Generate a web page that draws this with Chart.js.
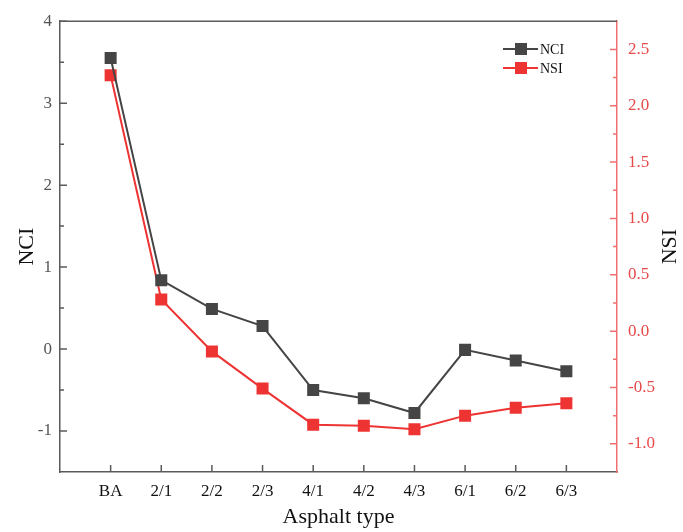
<!DOCTYPE html>
<html>
<head>
<meta charset="utf-8">
<script src="https://cdn.jsdelivr.net/npm/chart.js@4.4.1/dist/chart.umd.min.js"></script>
<style>
  html, body { margin: 0; padding: 0; background: #fff; }
  canvas { display: block; }
</style>
</head>
<body>
<canvas id="chart" width="683" height="532"></canvas>
<script>
// data
const categories = ["BA", "2/1", "2/2", "2/3", "4/1", "4/2", "4/3", "6/1", "6/2", "6/3"];
const nciValues = [3.55, 0.84, 0.49, 0.28, -0.50, -0.60, -0.78, -0.01, -0.14, -0.27];
const nsiValues = [2.27, 0.28, -0.18, -0.51, -0.83, -0.84, -0.87, -0.75, -0.68, -0.64];
const nciTicks = [-1, 0, 1, 2, 3, 4];
const nsiTicks = [-1.0, -0.5, 0.0, 0.5, 1.0, 1.5, 2.0, 2.5];

const SERIF = "'Liberation Serif', 'DejaVu Serif', serif";
const GRAY = "#454545";
const RED = "#ee3333";
const AXIS_GRAY = "#5a5a5a";
const AXIS_RED = "#f07070";

const toPoints = vals => vals.map((v, i) => ({ x: i + 1, y: v }));

// inward ticks, top frame, legend and axis titles
const decorations = {
  id: "decorations",
  afterDraw(chart) {
    const ctx = chart.ctx;
    const area = chart.chartArea;
    const xs = chart.scales.x, yl = chart.scales.y, yr = chart.scales.y1;
    ctx.save();

    // top frame line
    ctx.strokeStyle = AXIS_GRAY;
    ctx.lineWidth = 1.5;
    ctx.beginPath();
    ctx.moveTo(area.left, area.top);
    ctx.lineTo(area.right, area.top);
    ctx.stroke();

    // x ticks
    ctx.beginPath();
    categories.forEach((c, i) => {
      const px = xs.getPixelForValue(i + 1);
      ctx.moveTo(px, area.bottom);
      ctx.lineTo(px, area.bottom - 7);
    });
    // left ticks, major and minor
    nciTicks.forEach(v => {
      const py = yl.getPixelForValue(v);
      ctx.moveTo(area.left, py);
      ctx.lineTo(area.left + 7, py);
    });
    nciTicks.slice(0, -1).forEach(v => {
      const py = yl.getPixelForValue(v + 0.5);
      ctx.moveTo(area.left, py);
      ctx.lineTo(area.left + 4, py);
    });
    ctx.stroke();

    // right ticks
    ctx.strokeStyle = AXIS_RED;
    ctx.beginPath();
    nsiTicks.forEach(v => {
      const py = yr.getPixelForValue(v);
      ctx.moveTo(area.right, py);
      ctx.lineTo(area.right - 7, py);
    });
    nsiTicks.slice(0, -1).forEach(v => {
      const py = yr.getPixelForValue(v + 0.25);
      ctx.moveTo(area.right, py);
      ctx.lineTo(area.right - 4, py);
    });
    ctx.stroke();

    // legend
    const rows = [
      { label: "NCI", color: GRAY, y: 49 },
      { label: "NSI", color: RED, y: 68 }
    ];
    rows.forEach(r => {
      ctx.strokeStyle = r.color;
      ctx.lineWidth = 2;
      ctx.beginPath();
      ctx.moveTo(503, r.y);
      ctx.lineTo(538, r.y);
      ctx.stroke();
      ctx.fillStyle = r.color;
      ctx.fillRect(515, r.y - 6, 12, 12);
      ctx.fillStyle = "#111";
      ctx.font = "14px " + SERIF;
      ctx.textAlign = "left";
      ctx.textBaseline = "middle";
      ctx.fillText(r.label, 540, r.y + 1);
    });

    // axis titles
    ctx.fillStyle = "#111";
    ctx.font = "22px " + SERIF;
    ctx.textAlign = "center";
    ctx.textBaseline = "middle";
    ctx.fillText("Asphalt type", (area.left + area.right) / 2, 517);
    const midY = (area.top + area.bottom) / 2;
    ctx.save();
    ctx.translate(27, midY);
    ctx.rotate(-Math.PI / 2);
    ctx.fillText("NCI", 0, 0);
    ctx.restore();
    ctx.save();
    ctx.translate(670, midY);
    ctx.rotate(-Math.PI / 2);
    ctx.fillText("NSI", 0, 0);
    ctx.restore();

    ctx.restore();
  }
};

new Chart(document.getElementById("chart"), {
  type: "line",
  data: {
    datasets: [
      {
        label: "NCI",
        data: toPoints(nciValues),
        yAxisID: "y",
        borderColor: GRAY,
        backgroundColor: GRAY,
        borderWidth: 2,
        pointStyle: "rect",
        pointRadius: 8.5,
        pointBorderWidth: 0,
        pointHoverRadius: 8.5
      },
      {
        label: "NSI",
        data: toPoints(nsiValues),
        yAxisID: "y1",
        borderColor: RED,
        backgroundColor: RED,
        borderWidth: 2,
        pointStyle: "rect",
        pointRadius: 8.5,
        pointBorderWidth: 0,
        pointHoverRadius: 8.5
      }
    ]
  },
  options: {
    responsive: false,
    animation: false,
    layout: { padding: { top: 18, left: 0, right: 0, bottom: 0 } },
    plugins: {
      legend: { display: false },
      tooltip: { enabled: false }
    },
    scales: {
      x: {
        type: "linear",
        min: 0,
        max: 11,
        afterBuildTicks: s => { s.ticks = categories.map((c, i) => ({ value: i + 1 })); },
        afterFit: s => { s.height = 60; },
        grid: { display: false, drawTicks: false },
        border: { display: true, color: AXIS_GRAY, width: 1.5 },
        ticks: {
          autoSkip: false,
          maxRotation: 0,
          padding: 9,
          color: "#111",
          font: { family: SERIF, size: 17 },
          callback: v => categories[v - 1] || ""
        }
      },
      y: {
        position: "left",
        min: -1.5,
        max: 4,
        afterBuildTicks: s => { s.ticks = nciTicks.map(v => ({ value: v })); },
        afterFit: s => { s.width = 60; },
        grid: { display: false, drawTicks: false },
        border: { display: true, color: AXIS_GRAY, width: 1.5 },
        ticks: {
          padding: 8,
          color: "#555",
          font: { family: SERIF, size: 17 },
          callback: v => String(v)
        }
      },
      y1: {
        position: "right",
        min: -1.25,
        max: 2.75,
        afterBuildTicks: s => { s.ticks = nsiTicks.map(v => ({ value: v })); },
        afterFit: s => { s.width = 66; },
        grid: { display: false, drawTicks: false },
        border: { display: true, color: AXIS_RED, width: 1.5 },
        ticks: {
          padding: 11,
          color: "#e84a4a",
          font: { family: SERIF, size: 17 },
          callback: v => Number(v).toFixed(1)
        }
      }
    }
  },
  plugins: [decorations]
});
</script>
</body>
</html>
